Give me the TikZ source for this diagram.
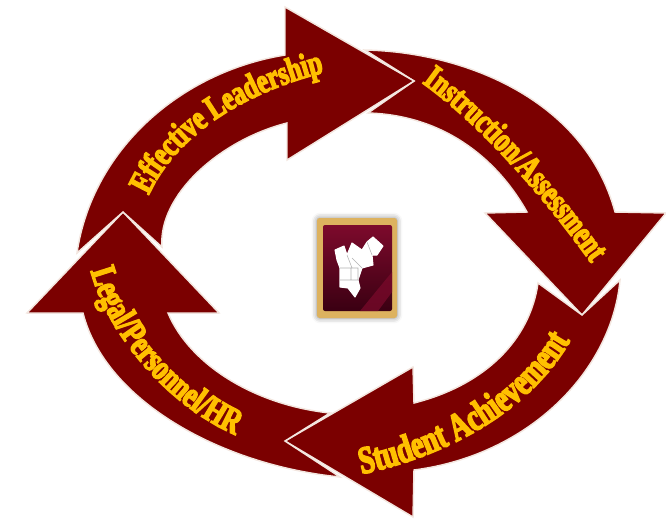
\documentclass[tikz,border=0pt]{standalone}
\usepackage{fontspec}
\usetikzlibrary{decorations.text,shadows.blur}
\newfontfamily\fatface[FakeBold=4,FakeStretch=0.72]{Liberation Serif Bold}
\definecolor{maroonfill}{HTML}{7B0000}
\definecolor{goldtext}{HTML}{FFC000}
\definecolor{rimline}{HTML}{F3E6DF}
\definecolor{framegold}{HTML}{DDB25F}
\definecolor{logodark}{HTML}{3A0012}
\definecolor{logolight}{HTML}{7D0A2C}
\tikzset{
  x=0.75pt,y=-0.75pt,
  arrowshape/.style={fill=maroonfill,draw=rimline,line width=1.1pt,line join=miter},
}
\newcommand{\curvedtext}[6]{%
  \path[decorate,decoration={text along path,text align={center},text color=goldtext,
    text={|\fatface\fontsize{#6}{#6}\selectfont|#5}}] #1 .. controls #2 and #3 .. #4;}
\begin{document}
\begin{tikzpicture}
\useasboundingbox (0,0) rectangle (666,522);
% Instruction/Assessment arrow
\path[arrowshape] (365,50) .. controls (465,52) and (585,100) .. (615,212)
  -- (666,213) -- (582,315) -- (485,213) -- (527,212)
  .. controls (495,155) and (440,115) .. (368,113) -- (414,81) -- cycle;
% Student Achievement arrow
\path[arrowshape] (620,280) .. controls (612,370) and (530,455) .. (414,470)
  -- (413,517) -- (285,441) -- (413,367) -- (414,403)
  .. controls (485,385) and (530,340) .. (538,283) -- (582,315) -- cycle;
% Legal arrow
\path[arrowshape] (340,477) .. controls (220,465) and (105,400) .. (83,313)
  -- (27,313) -- (123,212) -- (219,313) -- (168,313)
  .. controls (190,365) and (255,405) .. (330,413) -- (285,441) -- cycle;
% Effective Leadership arrow
\path[arrowshape] (77,253) .. controls (92,150) and (180,72) .. (285,55)
  -- (285,7) -- (414,81) -- (287,160) -- (287,123)
  .. controls (220,140) and (158,195) .. (162,247) -- (123,212) -- cycle;
% labels
\curvedtext{(148,197)}{(175,135)}{(245,92)}{(326,72)}{Effective Leadership}{26}
\curvedtext{(415,78)}{(470,115)}{(540,190)}{(596,270)}{Instruction/Assessment}{26}
\curvedtext{(362,474)}{(450,455)}{(530,410)}{(570,341)}{Student Achievement}{29}
\curvedtext{(90,268)}{(105,330)}{(165,405)}{(238,436)}{Legal/Personnel/HR}{27}
% logo
\path[fill=framegold,rounded corners=2pt,blur shadow={shadow xshift=0pt,shadow yshift=0pt,shadow blur radius=4pt,shadow opacity=45}] (317,218) rectangle (397,318);
\path[shading=axis,top color=logolight,bottom color=logodark,rounded corners=1.5pt] (323,225) rectangle (392,311);
\path[fill=logolight,opacity=.7] (392,272) -- (392,292) -- (378,311) -- (360,311) -- cycle;
\path[fill=white,draw=white,line width=0.8pt,line join=round]
  (335,250) -- (344,246) -- (347,255) -- (352,243) -- (362,250) -- (367,242) -- (373,237) -- (383,246) -- (377,255) -- (372,255)
  -- (373,265) -- (362,268) -- (358,280) -- (360,288) -- (355,297) -- (348,288) -- (340,287) -- (340,268) -- (337,260) -- cycle;
\draw[gray!60,line width=0.4pt] (340,268) -- (358,268) -- (358,280) (340,280) -- (358,280) (351,268) -- (351,280)
  (347,255) -- (352,268) (362,268) -- (352,258) (367,242) -- (372,255);
\end{tikzpicture}
\end{document}
